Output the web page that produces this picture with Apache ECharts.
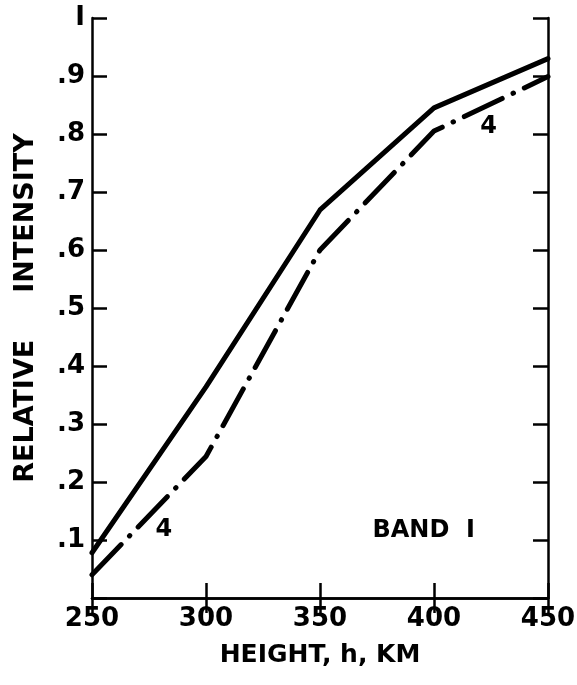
<!DOCTYPE html>
<html>
<head>
<meta charset="utf-8">
<script src="https://cdn.jsdelivr.net/npm/echarts@6/dist/echarts.min.js"></script>
<style>
html,body{margin:0;padding:0;background:#fff;}
#chart{width:577px;height:685px;}
</style>
</head>
<body>
<div id="chart"></div>
<script>
// ---- data ----
var heights = [250, 300, 350, 400, 450];
var solidCurve = [0.078, 0.364, 0.669, 0.845, 0.930];
var dashDotCurve = [0.040, 0.244, 0.600, 0.805, 0.899];
var yTickLabels = ['', '.1', '.2', '.3', '.4', '.5', '.6', '.7', '.8', '.9', 'I'];
var xTitle = 'HEIGHT, h, KM';
var yTitle = 'RELATIVE     INTENSITY';
var annotationTexts = ['4', '4', 'BAND  I'];
var annotationPoints = [[281.5, 0.117], [424, 0.812], [395.5, 0.116]];

var FONT = 'DejaVu Sans';
function pairs(xs, ys) { return xs.map(function (x, i) { return [x, ys[i]]; }); }

var chart = echarts.init(document.getElementById('chart'), null, { renderer: 'canvas' });
var axisLine = { show: true, lineStyle: { color: '#000', width: 2.5 } };
var tick = { show: true, inside: true, length: 15, lineStyle: { color: '#000', width: 2.5 } };

chart.setOption({
  animation: false,
  backgroundColor: '#fff',
  grid: { left: 92, right: 29, top: 18, bottom: 87, outerBoundsMode: 'none' },
  xAxis: [{
    type: 'value', min: 250, max: 450, interval: 50, position: 'bottom',
    axisLine: axisLine, axisTick: tick, splitLine: { show: false },
    axisLabel: { color: '#000', fontFamily: FONT, fontWeight: 'bold', fontSize: 26, margin: 8 },
    name: xTitle, nameLocation: 'middle', nameGap: 45,
    nameTextStyle: { color: '#000', fontFamily: FONT, fontWeight: 'bold', fontSize: 25 }
  }, {
    type: 'value', min: 250, max: 450, interval: 50, position: 'top',
    axisLine: axisLine, axisTick: tick, splitLine: { show: false },
    axisLabel: { show: false }
  }],
  yAxis: [{
    type: 'value', min: 0, max: 1, interval: 0.1, position: 'left',
    axisLine: axisLine, axisTick: tick, splitLine: { show: false },
    axisLabel: {
      color: '#000', fontFamily: FONT, fontWeight: 'bold', fontSize: 26, margin: 7,
      formatter: function (v) { return yTickLabels[Math.round(v * 10)]; }
    },
    name: yTitle, nameLocation: 'middle', nameGap: 53, nameRotate: 90,
    nameTextStyle: { color: '#000', fontFamily: FONT, fontWeight: 'bold', fontSize: 27 }
  }, {
    type: 'value', min: 0, max: 1, interval: 0.1, position: 'right',
    axisLine: axisLine, axisTick: tick, splitLine: { show: false },
    axisLabel: { show: false }
  }],
  series: [{
    type: 'line', data: pairs(heights, solidCurve), symbol: 'none',
    lineStyle: { color: '#000', width: 5, cap: 'round', join: 'round' }
  }, {
    type: 'line', data: pairs(heights, dashDotCurve), symbol: 'none',
    lineStyle: { color: '#000', width: 5, type: [42, 12, 0.5, 12], cap: 'round', join: 'round' }
  }, {
    type: 'scatter', symbolSize: 0,
    data: annotationPoints.map(function (p, i) { return { value: p, name: annotationTexts[i] }; }),
    itemStyle: { opacity: 1 },
    label: {
      show: true, position: 'inside', color: '#000', opacity: 1, fontFamily: FONT, fontWeight: 'bold',
      fontSize: 24, textBorderWidth: 0,
      formatter: function (p) { return p.name; }
    }
  }]
});
</script>
</body>
</html>
